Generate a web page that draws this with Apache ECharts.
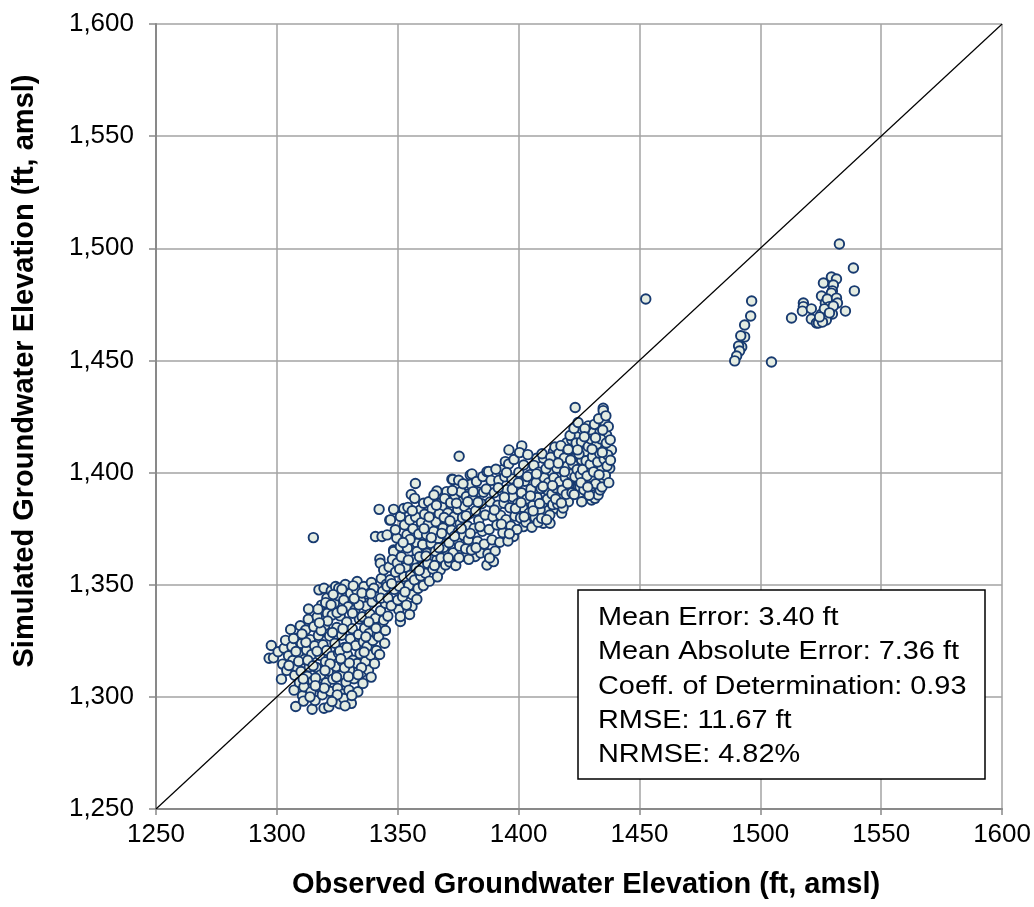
<!DOCTYPE html>
<html>
<head>
<meta charset="utf-8">
<script src="https://cdn.jsdelivr.net/npm/echarts@6/dist/echarts.min.js"></script>
<style>
html,body{margin:0;padding:0;background:#fff;}
#chart{width:1034px;height:907px;}
</style>
</head>
<body>
<div id="chart"></div>
<script>
// ---- Data (observed, simulated) ----
const lowerCluster = [
[1296.8,1317.2],[1297.7,1322.9],[1298.6,1317.4],[1300.5,1320.1],[1301.9,1307.9],[1302.4,1314.6],[1303.0,1321.7],[1303.6,1325.2],[1304.1,1311.8],[1304.8,1318.3],
[1305.7,1330.0],[1306.2,1322.4],[1306.6,1316.2],[1307.1,1303.0],[1307.8,1295.7],[1307.4,1309.6],[1308.0,1313.5],[1308.5,1326.1],[1308.9,1319.8],[1309.3,1306.4],[1309.7,1331.7],[1310.2,1323.8],[1310.0,1311.3],[1310.6,1300.5],
[1311.2,1304.5],[1311.5,1316.7],[1311.9,1329.8],[1312.3,1320.9],[1312.6,1309.2],[1313.0,1334.6],[1313.4,1313.4],[1313.8,1325.5],[1314.1,1302.2],[1314.6,1294.5],[1314.4,1318.9],[1314.9,1307.1],[1315.3,1331.3],[1315.6,1322.8],[1315.8,1298.4],
[1316.3,1313.1],[1316.7,1335.7],[1317.0,1304.6],[1317.4,1347.7],[1317.2,1327.4],[1317.8,1318.5],[1318.1,1309.8],[1318.5,1340.9],[1318.8,1300.9],[1319.1,1323.2],[1319.5,1294.9],[1319.5,1348.4],[1319.8,1331.8],[1320.1,1315.6],[1320.4,1306.3],[1320.7,1344.1],[1320.9,1337.2],[1320.6,1320.7],
[1321.5,1295.6],[1321.3,1311.4],[1321.8,1327.1],[1322.2,1302.4],[1322.5,1347.3],[1322.9,1336.5],[1322.7,1318.1],[1323.2,1307.9],[1323.6,1298.6],[1323.8,1341.9],[1324.0,1323.9],[1324.3,1349.2],[1324.5,1313.5],[1324.8,1330.9],[1325.1,1303.8],[1325.3,1345.1],[1325.6,1348.4],[1325.5,1319.6],[1325.9,1296.9],
[1326.2,1336.1],[1326.5,1309.4],[1326.8,1327.5],[1327.1,1315.8],[1327.4,1301.2],[1327.7,1343.2],[1327.7,1299.3],[1327.9,1322.0],[1328.3,1350.1],[1328.6,1306.5],[1328.9,1333.4],[1329.2,1318.7],[1329.5,1340.2],[1329.8,1303.0],[1330.1,1312.0],[1330.5,1346.2],[1330.4,1325.9],[1330.8,1297.1],
[1331.2,1330.4],[1331.5,1316.3],[1331.9,1308.1],[1332.3,1338.8],[1332.6,1322.9],[1333.0,1347.6],[1333.2,1351.4],[1333.2,1314.9],[1333.5,1302.3],[1333.8,1327.8],[1334.1,1334.7],[1334.4,1319.2],[1334.7,1343.0],[1334.9,1310.6],[1335.3,1335.7],[1335.6,1306.0],[1335.8,1324.5],
[1336.0,1349.2],[1336.3,1330.6],[1336.6,1315.7],[1336.9,1340.4],[1337.3,1322.4],[1337.6,1345.8],[1337.9,1311.9],[1338.2,1328.3],[1338.5,1336.9],[1338.8,1318.6],[1339.1,1351.0],[1339.4,1342.3],[1339.7,1325.1],[1340.1,1348.4],[1340.0,1332.5],[1340.4,1314.8],[1340.8,1335.0],
[1341.2,1320.7],[1341.5,1327.6],[1341.8,1344.5],[1342.1,1326.8],[1342.9,1338.4],[1343.2,1352.8],[1343.4,1331.3],[1343.8,1347.1],[1344.2,1334.2],[1344.6,1323.9],[1344.9,1341.7],[1345.3,1350.2],[1345.9,1336.0],
[1309.0,1315.8],[1312.0,1324.3],[1316.0,1308.4],[1318.3,1329.6],[1321.0,1333.8],[1323.0,1328.7],[1326.0,1320.4],[1328.0,1312.9],[1331.0,1300.6],[1333.9,1341.0],[1336.8,1326.8],[1339.0,1308.8],[1306.9,1326.0],[1311.0,1298.1],[1317.0,1339.1],[1319.6,1303.9],[1322.0,1314.7],[1324.9,1337.5],[1327.3,1330.3],[1329.6,1309.0],[1332.0,1343.8],[1335.0,1313.0],[1338.0,1333.4],[1320.2,1342.0],[1323.3,1345.6],[1326.9,1348.0],[1331.6,1349.5],[1335.2,1346.3],[1313.7,1300.0],[1325.0,1300.9],[1330.0,1315.1],[1316.6,1320.3],[1313.1,1339.2],
[1305.0,1314.0],[1307.9,1320.2],[1310.4,1328.0],[1312.8,1316.3],[1315.0,1313.9],[1317.6,1333.0],[1319.9,1311.8],[1322.4,1341.0],[1324.7,1308.8],[1327.0,1338.7],[1329.0,1322.0],[1331.3,1337.3],[1333.6,1309.9],[1336.1,1320.0],[1338.9,1346.0],[1341.0,1330.6],[1343.0,1344.0],[1344.9,1329.6],[1342.5,1318.9],[1310.9,1308.0],[1315.9,1305.0],[1322.8,1297.9],[1328.2,1296.0],[1326.4,1317.0]
];

const middleCluster = [
[1315.1,1371.0],[1340.8,1371.5],[1342.3,1383.6],[1342.6,1361.4],[1342.8,1359.6],[1343.5,1371.5],[1344.2,1356.6],[1345.6,1349.2],[1345.6,1372.2],
[1346.7,1378.8],[1346.9,1352.2],[1347.0,1378.9],[1348.3,1383.6],[1348.3,1365.5],[1348.3,1364.8],[1350.4,1338.8],[1351.1,1380.4],[1351.1,1367.0],[1351.1,1333.6],[1351.1,1335.8],[1352.5,1384.0],[1352.5,1353.6],[1353.8,1372.2],[1354.2,1384.5],[1355.6,1390.2],[1355.9,1340.3],[1356.6,1361.1],[1357.3,1395.1],[1358.0,1368.5],[1358.0,1364.8],[1359.3,1383.3],[1360.0,1358.1],[1360.7,1386.3],[1362.1,1364.0],[1362.8,1387.0],[1363.5,1361.8],[1366.2,1391.8],[1366.2,1361.1],[1367.6,1386.3],[1367.6,1356.6],[1368.3,1384.8],[1370.3,1391.5],[1370.3,1364.0],[1370.3,1377.4],[1372.4,1397.0],[1372.8,1396.9],[1374.5,1393.0],[1374.5,1364.8],[1374.5,1370.0],[1375.2,1396.6],[1375.4,1407.3],[1375.8,1377.4],[1376.5,1387.0],[1377.9,1362.6],[1378.6,1394.4],[1380.0,1398.9],[1380.7,1399.4],[1381.3,1368.5],[1382.0,1362.6],
[1346.0,1344.0],[1346.4,1357.9],[1347.3,1340.6],[1347.8,1361.2],[1348.6,1347.9],[1349.1,1355.6],[1349.6,1370.8],[1350.0,1343.2],[1349.8,1359.7],
[1350.6,1349.3],[1351.5,1362.4],[1352.0,1344.6],[1352.8,1376.6],[1353.3,1357.8],[1353.6,1340.9],[1354.0,1366.4],[1354.6,1349.7],[1355.0,1378.9],[1355.3,1354.2],[1355.1,1370.2],[1354.9,1336.7],
[1356.0,1345.5],[1356.3,1374.9],[1356.9,1352.1],[1357.4,1380.2],[1357.6,1357.4],[1358.4,1348.3],[1358.7,1372.6],[1359.0,1362.5],[1359.5,1353.9],[1359.8,1377.7],[1357.0,1388.5],
[1360.3,1367.9],[1360.6,1349.6],[1361.1,1381.4],[1361.5,1355.1],[1361.9,1372.3],[1362.4,1359.5],[1362.6,1376.9],[1363.1,1351.6],[1363.8,1368.4],[1364.2,1383.9],[1364.5,1357.0],[1364.9,1373.8],[1365.0,1390.0],
[1365.5,1364.9],[1365.8,1378.1],[1366.4,1353.5],[1366.8,1370.6],[1367.2,1381.6],[1367.9,1361.9],[1368.7,1375.3],[1369.0,1366.6],[1369.4,1388.4],[1369.8,1358.8],[1369.6,1372.4],
[1370.7,1382.0],[1371.2,1368.7],[1371.5,1360.1],[1371.9,1386.6],[1372.2,1374.4],[1372.9,1364.2],[1373.3,1380.3],[1373.7,1389.9],[1374.0,1358.6],[1374.8,1383.6],[1375.0,1373.5],
[1375.6,1367.2],[1376.1,1391.4],[1376.8,1379.9],[1377.2,1372.0],[1377.6,1384.9],[1378.1,1366.0],[1378.4,1389.3],[1378.9,1376.2],[1379.4,1361.3],[1379.8,1381.8],[1380.2,1394.8],[1379.2,1370.1],
[1380.5,1365.5],[1380.9,1388.2],[1381.6,1375.1],[1382.2,1383.0],[1382.6,1396.0],[1383.0,1369.4],[1383.5,1378.7],[1383.9,1391.3],[1384.3,1364.1],[1384.7,1386.1],[1385.0,1373.8],[1385.2,1398.2],
[1347.5,1350.5],[1349.0,1374.5],[1350.8,1357.0],[1352.2,1368.8],[1353.0,1346.8],[1354.4,1361.0],[1356.0,1383.0],[1357.9,1343.5],[1358.9,1356.3],[1360.9,1375.0],[1361.7,1362.8],[1363.0,1380.2],[1363.9,1371.0],[1365.2,1358.6],[1366.0,1385.4],[1367.0,1366.5],[1368.2,1372.9],[1369.2,1380.0],[1370.9,1362.0],[1371.6,1378.5],[1372.6,1392.0],[1373.5,1371.6],[1374.3,1386.3],[1375.4,1362.0],[1376.3,1375.0],[1377.0,1395.0],[1378.3,1380.7],[1379.0,1387.0],[1380.0,1372.9],[1381.2,1391.5],[1382.4,1366.5],[1383.2,1386.8],[1384.0,1375.9],[1385.5,1391.2]
];

const upperCluster = [
[1386.9,1358.8],[1386.9,1400.4],[1387.6,1400.5],[1389.6,1360.3],[1393.1,1401.2],[1394.5,1404.9],[1396.0,1410.1],[1397.9,1371.5],[1401.3,1411.9],[1402.0,1375.9],[1407.5,1406.4],[1410.2,1377.4],[1410.3,1406.4],[1411.0,1383.3],[1411.7,1392.2],[1413.0,1377.4],[1413.7,1400.4],[1414.4,1409.3],[1414.4,1404.9],[1415.1,1384.0],[1417.1,1389.3],[1417.2,1404.9],[1417.8,1381.9],[1418.5,1401.1],[1419.9,1413.3],[1420.6,1387.0],[1422.0,1414.5],[1422.7,1406.3],[1423.3,1410.8],[1423.4,1429.0],[1424.0,1416.0],[1424.7,1396.7],[1424.7,1393.8],[1425.1,1390.8],[1425.4,1393.7],[1426.1,1387.0],[1426.1,1405.6],[1427.5,1409.3],[1428.2,1417.8],[1428.8,1420.8],[1430.2,1387.8],[1430.2,1396.7],[1430.9,1417.8],[1431.6,1388.5],[1432.9,1390.0],[1433.7,1418.2],[1433.7,1392.2],[1434.3,1401.9],[1434.3,1397.4],[1435.0,1428.7],[1435.0,1427.6],[1435.0,1421.9],[1435.0,1410.0],[1435.8,1422.0],[1436.4,1416.7],[1437.1,1420.5],[1437.7,1401.9],[1437.8,1410.0],[1438.4,1410.1],
[1385.8,1368.1],[1386.2,1381.1],[1386.6,1392.7],[1387.3,1363.8],[1387.8,1374.6],[1388.2,1386.9],[1388.6,1396.5],[1389.0,1370.0],[1389.4,1380.3],[1389.9,1391.0],[1390.3,1365.0],[1390.6,1401.5],
[1391.0,1376.6],[1391.4,1385.4],[1391.8,1396.6],[1392.2,1368.9],[1392.6,1380.9],[1393.0,1391.9],[1393.5,1373.2],[1393.9,1386.3],[1394.3,1398.1],[1394.8,1379.0],[1395.2,1392.4],[1395.6,1369.5],[1395.9,1403.8],
[1396.4,1384.3],[1396.8,1376.2],[1397.2,1397.2],[1397.6,1389.1],[1398.1,1405.8],[1398.5,1380.6],[1398.9,1393.6],[1399.3,1374.6],[1399.7,1386.2],[1400.1,1400.1],[1400.4,1408.9],[1400.8,1379.8],
[1401.2,1391.0],[1401.7,1384.4],[1402.1,1403.4],[1402.5,1396.1],[1403.0,1377.9],[1403.4,1388.2],[1403.8,1408.0],[1404.3,1381.9],[1404.7,1399.1],[1405.1,1392.6],[1405.5,1375.6],[1405.9,1385.3],
[1406.3,1403.2],[1406.8,1380.0],[1407.2,1395.6],[1407.7,1388.9],[1408.1,1377.9],[1408.5,1400.2],[1408.9,1383.5],[1409.3,1392.9],[1409.7,1408.4],[1410.0,1386.5],[1409.5,1379.6],
[1410.6,1397.7],[1411.3,1401.7],[1411.9,1388.1],[1412.4,1395.5],[1412.9,1381.1],[1413.3,1406.8],[1413.8,1390.5],[1414.1,1385.7],[1414.6,1397.7],[1415.0,1411.4],[1415.4,1393.1],
[1415.8,1401.9],[1416.2,1385.9],[1416.6,1408.5],[1417.0,1396.0],[1417.5,1412.0],[1418.0,1392.1],[1418.4,1384.2],[1418.9,1406.5],[1419.3,1397.8],[1419.7,1390.3],[1420.1,1402.8],[1420.5,1410.3],
[1420.9,1394.8],[1421.3,1416.5],[1421.7,1399.3],[1422.1,1391.0],[1422.5,1403.6],[1422.9,1419.7],[1423.3,1398.1],[1423.8,1413.2],[1424.2,1401.4],[1424.6,1422.3],[1425.0,1408.3],[1425.5,1398.9],
[1426.0,1413.7],[1426.5,1401.3],[1427.0,1392.3],[1427.4,1419.6],[1427.9,1405.3],[1428.3,1398.5],[1428.8,1411.6],[1429.2,1389.9],[1429.6,1403.7],[1430.0,1414.9],[1429.9,1393.8],
[1430.6,1407.1],[1431.0,1400.3],[1431.4,1421.5],[1431.9,1395.0],[1432.3,1412.5],[1432.7,1404.7],[1433.1,1424.0],[1433.5,1408.6],[1434.0,1415.0],[1434.5,1393.6],[1435.4,1405.9],[1435.9,1398.7],[1436.3,1413.2],[1436.8,1407.9],[1437.3,1395.5],[1437.9,1414.6],[1436.1,1425.3],[1434.8,1419.0],
[1388.0,1361.9],[1390.0,1383.3],[1391.6,1393.2],[1392.9,1377.0],[1394.1,1389.0],[1395.0,1400.0],[1396.2,1372.7],[1397.4,1392.6],[1398.7,1384.0],[1399.9,1395.4],[1401.0,1386.6],[1402.3,1380.3],[1403.6,1398.2],[1404.9,1389.6],[1406.0,1382.9],[1407.4,1399.4],[1408.7,1386.2],[1410.1,1393.8],[1411.6,1379.0],[1412.7,1403.8],[1414.0,1394.2],[1415.3,1388.2],[1416.4,1404.2],[1417.7,1386.4],[1419.0,1400.4],[1420.3,1395.0],[1421.5,1405.6],[1423.0,1390.2],[1424.4,1410.1],[1425.8,1395.5],[1427.2,1416.0],[1428.6,1393.6],[1430.4,1410.4],[1431.8,1415.5],[1433.3,1399.0],[1434.6,1409.0],[1436.6,1402.9],[1438.0,1405.5]
];

const highOutliers = [
[1452.6,1477.4],[1496.4,1476.5],[1496.0,1469.8],[1493.5,1465.8],[1493.5,1460.5],[1491.9,1461.0],[1492.3,1456.0],[1491.0,1456.4],[1491.4,1454.2],[1490.2,1452.0],[1489.4,1449.8],[1504.6,1449.3],
[1532.7,1501.9],[1538.5,1491.2],[1538.9,1481.0],[1535.2,1472.0],[1512.9,1468.9],[1517.8,1475.6],[1517.8,1474.0],[1517.4,1472.0],[1521.1,1473.0],[1521.1,1468.5],[1523.2,1466.7],[1524.0,1466.7],[1525.3,1470.7],[1526.1,1484.5],[1525.3,1478.7],[1529.4,1487.2],[1531.5,1486.3],[1530.2,1483.6],[1529.8,1481.0],[1529.4,1480.0],[1526.9,1475.6],[1527.7,1477.4],[1531.5,1477.8],[1531.9,1475.6],[1528.6,1474.0],[1526.5,1473.0],[1529.8,1470.7],[1527.3,1468.0],[1525.7,1467.1],[1530.2,1474.3],[1528.6,1471.2],[1524.5,1469.4]
];

const oneToOneLine = [[1250, 1250], [1600, 1600]];

const statsLines = [
  'Mean Error: 3.40 ft',
  'Mean Absolute Error: 7.36 ft',
  'Coeff. of Determination: 0.93',
  'RMSE: 11.67 ft',
  'NRMSE: 4.82%'
];
const xTitle = 'Observed Groundwater Elevation (ft, amsl)';
const yTitle = 'Simulated Groundwater Elevation (ft, amsl)';

// ---- Chart ----
const chart = echarts.init(document.getElementById('chart'), null, {renderer: 'canvas'});
const FONT = '"Liberation Sans", Arial, sans-serif';
const pointStyle = {
  type: 'scatter',
  symbol: 'circle',
  symbolSize: 9.5,
  itemStyle: {color: '#e4ece2', borderColor: '#173a70', borderWidth: 1.9, opacity: 1},
  z: 3,
  silent: true
};

const statsGraphics = [{
  type: 'rect',
  shape: {x: 578, y: 590, width: 407, height: 189},
  style: {fill: '#ffffff', stroke: '#000000', lineWidth: 1.5},
  z: 100
}];
statsLines.forEach(function (t, i) {
  statsGraphics.push({
    type: 'text',
    x: 598, y: 618 + i * 34.2,
    scaleX: 1.11, scaleY: 1,
    style: {text: t, font: '26px ' + FONT, fill: '#000', textAlign: 'left', textVerticalAlign: 'middle'},
    z: 101
  });
});

const option = {
  animation: false,
  backgroundColor: '#ffffff',
  grid: {left: 156, right: 31, top: 24, bottom: 98, containLabel: false},
  xAxis: {
    type: 'value', min: 1250, max: 1600, interval: 50,
    axisLine: {show: true, lineStyle: {color: '#898989', width: 2}},
    axisTick: {show: true, inside: false, length: 6, lineStyle: {color: '#898989', width: 1.5}},
    splitLine: {show: true, lineStyle: {color: '#a3a3a3', width: 1.5}},
    axisLabel: {margin: 13, color: '#000', fontSize: 26, fontFamily: FONT,
      formatter: function (v) { return String(v); }}
  },
  yAxis: {
    type: 'value', min: 1250, max: 1600, interval: 50,
    axisLine: {show: true, lineStyle: {color: '#898989', width: 2}},
    axisTick: {show: true, inside: false, length: 7, lineStyle: {color: '#898989', width: 1.5}},
    splitLine: {show: true, lineStyle: {color: '#a3a3a3', width: 1.5}},
    axisLabel: {margin: 22, color: '#000', fontSize: 26, fontFamily: FONT,
      formatter: function (v) { return v.toLocaleString('en-US'); }}
  },
  graphic: [
    {type: 'text', x: 586, y: 885,
      style: {text: xTitle, font: 'bold 29px ' + FONT, fill: '#000', textAlign: 'center', textVerticalAlign: 'middle'}},
    {type: 'text', x: 25, y: 371, rotation: Math.PI / 2,
      style: {text: yTitle, font: 'bold 29px ' + FONT, fill: '#000', textAlign: 'center', textVerticalAlign: 'middle'}}
  ].concat(statsGraphics),
  series: [
    Object.assign({name: 'Lower', data: lowerCluster}, pointStyle),
    Object.assign({name: 'Middle', data: middleCluster}, pointStyle),
    Object.assign({name: 'Upper', data: upperCluster}, pointStyle),
    Object.assign({name: 'High', data: highOutliers}, pointStyle),
    {
      name: '1:1', type: 'line', data: oneToOneLine, showSymbol: false, symbol: 'none',
      lineStyle: {color: '#000', width: 1.2}, z: 5, silent: true
    }
  ]
};
chart.setOption(option);
</script>
</body>
</html>
